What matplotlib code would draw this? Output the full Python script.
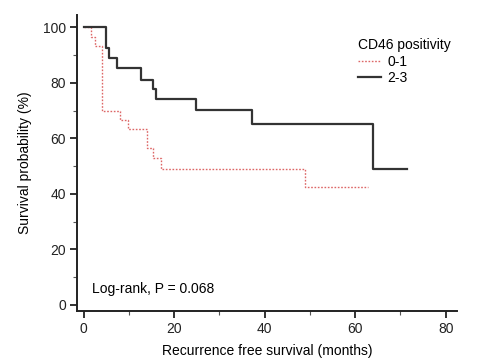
import matplotlib
matplotlib.use("Agg")
import matplotlib.pyplot as plt
from matplotlib.ticker import MultipleLocator

plt.rcParams['font.family'] = ['Liberation Sans', 'DejaVu Sans']

# Group 0-1 (red dotted)
t_low = [0, 1.5, 2.5, 4.0, 8.0, 9.7, 14.0, 15.3, 17.0, 48.9, 62.8]
s_low = [100, 96.7, 93.3, 70.0, 66.7, 63.3, 56.7, 52.9, 48.9, 42.4, 42.4]
# Group 2-3 (black solid)
t_high = [0, 4.9, 5.5, 7.4, 12.6, 15.4, 15.9, 24.8, 37.2, 63.9, 71.4]
s_high = [100, 92.7, 88.9, 85.3, 81.1, 77.7, 74.1, 70.4, 65.3, 49.0, 49.0]

xticks = [0, 20, 40, 60, 80]
yticks = [0, 20, 40, 60, 80, 100]

fig = plt.figure(figsize=(4.8, 3.63), dpi=100)
ax = fig.add_axes([0.1604, 0.1433, 0.7917, 0.8154])

ax.step(t_low, s_low, where='post', color='#dd6666', linestyle=(0, (1.2, 1.2)),
        linewidth=1.0, label='0-1')
ax.step(t_high, s_high, where='post', color='#333333', linewidth=1.6, label='2-3')

ax.set_xlim(-1.5, 82.5)
ax.set_ylim(-2.2, 104.5)
ax.set_xticks(xticks)
ax.set_yticks(yticks)
ax.xaxis.set_minor_locator(MultipleLocator(10))
ax.yaxis.set_minor_locator(MultipleLocator(10))
for s in ['top', 'right']:
    ax.spines[s].set_visible(False)
for s in ['left', 'bottom']:
    ax.spines[s].set_linewidth(1.4)
    ax.spines[s].set_color('#222222')
ax.tick_params(which='major', direction='out', length=5, width=1.3, labelsize=10,
               colors='#222222', pad=3)
ax.tick_params(which='minor', direction='out', length=3, width=0.8, colors='#555555')

ax.set_xlabel('Recurrence free survival (months)', fontsize=10, labelpad=6)
ax.set_ylabel('Survival probability (%)', fontsize=10, labelpad=8)

ax.text(0.04, 0.075, 'Log-rank, P = 0.068', transform=ax.transAxes, fontsize=10,
        ha='left', va='center')

leg = ax.legend(title='CD46 positivity', loc='upper left',
                bbox_to_anchor=(0.72, 0.945), frameon=False, fontsize=10,
                title_fontsize=10, handlelength=1.7, handletextpad=0.45,
                labelspacing=0.15, borderpad=0, alignment='left')
leg._legend_box.sep = 2

fig.savefig('out.png', dpi=100)
